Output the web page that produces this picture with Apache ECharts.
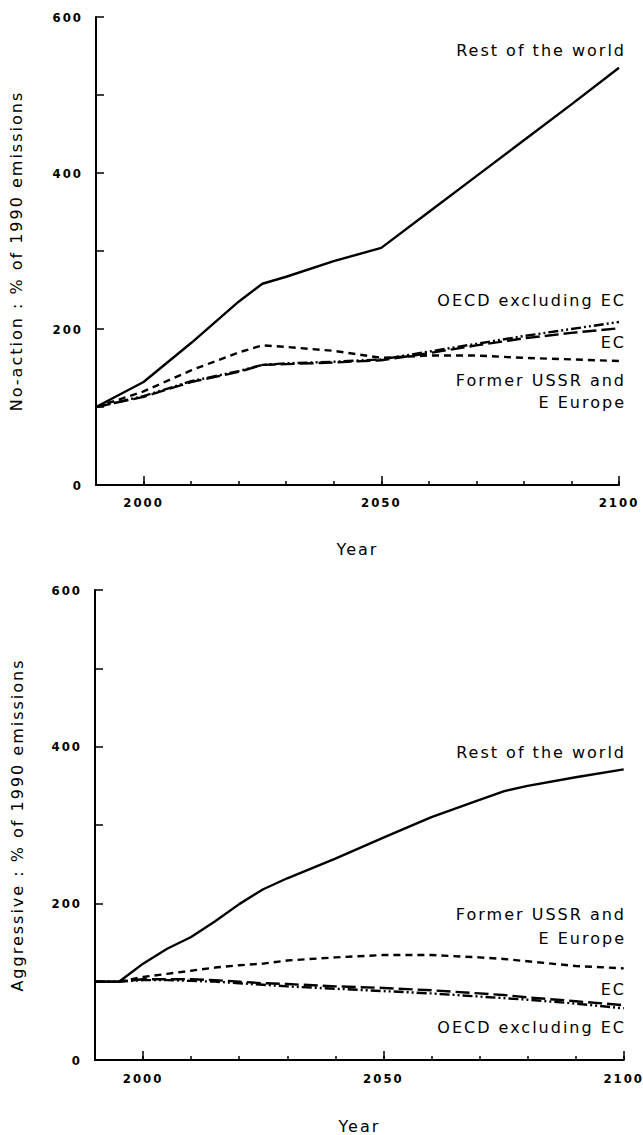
<!DOCTYPE html>
<html>
<head>
<meta charset="utf-8">
<script src="https://cdn.jsdelivr.net/npm/echarts@6/dist/echarts.min.js"></script>
<style>
  html, body { margin: 0; padding: 0; background: #fff; }
  #chart { width: 643px; height: 1135px; }
  #chart text { letter-spacing: 2px; }
</style>
</head>
<body>
<div id="chart"></div>
<script>
// ---------- DATA ----------
const yTicks = [100, 200, 300, 400, 500, 600];
const yLabels = [0, 200, 400, 600];
const xMinorTicks = [2000, 2010, 2020, 2030, 2040, 2050, 2060, 2070, 2080, 2090, 2100];
const xLabels = [2000, 2050, 2100];

// No-action scenario
const yearsTop = [1990, 2000, 2010, 2020, 2025, 2030, 2040, 2050, 2060, 2070, 2080, 2090, 2100];
const topRest = [100, 132, 182, 235, 258, 267, 287, 304, 350, 396, 442, 488, 535];
const topUSSR = [100, 120, 147, 170, 179, 177, 172, 163, 166, 166, 163, 161, 159];
const topEC   = [100, 113, 132, 145, 154, 155, 157, 160, 169, 179, 188, 195, 201];
const topOECD = [100, 114, 133, 146, 154, 156, 158, 161, 171, 181, 191, 200, 209];

// Aggressive scenario
const yearsBot = [1990, 1995, 2000, 2005, 2010, 2015, 2020, 2025, 2030, 2040, 2050, 2060, 2070, 2075, 2080, 2090, 2100];
const botRest = [100, 100, 123, 142, 157, 177, 199, 218, 232, 257, 284, 310, 332, 343, 350, 361, 371];
const botUSSR = [100, 100, 106, 110, 114, 118, 121, 123, 127, 131, 134, 134, 131, 129, 126, 120, 117];
const botEC   = [100, 100, 103, 103, 103, 102, 100, 98, 97, 94, 92, 89, 85, 83, 80, 75, 70];
const botOECD = [100, 100, 102, 102, 101, 100, 98, 96, 94, 91, 88, 85, 81, 79, 77, 72, 66];

const seriesNames = ['Rest of the world', 'Former USSR and E Europe', 'EC', 'OECD excluding EC'];
const yTitles = ['No-action : % of 1990 emissions', 'Aggressive : % of 1990 emissions'];
const xTitle = 'Year';

// ---------- STYLE ----------
const INK = '#000';
const FONT = '"DejaVu Sans", sans-serif';
const TICKFONT = '"DejaVu Sans Condensed", "DejaVu Sans", sans-serif';
const styles = [
  { type: 'solid' },
  { type: [7, 5] },
  { type: [14, 5] },
  { type: [10, 3, 2, 3, 2, 3] }
];

const grids = [
  { left: 93, top: 17, width: 526, height: 468 },
  { left: 95, top: 590, width: 529, height: 471 }
];

function pair(xs, ys) { return xs.map((x, i) => [x, ys[i]]); }
const plain = v => String(v);

const xAxes = [], yAxes = [], series = [];
[0, 1].forEach(g => {
  xAxes.push({
    type: 'value', gridIndex: g, min: 1990, max: 2100, interval: 10,
    axisLine: { show: true, lineStyle: { color: INK, width: 2 } },
    axisTick: { show: true, inside: true, length: 4, lineStyle: { color: INK, width: 1.5 }, customValues: xMinorTicks },
    axisLabel: { show: false },
    splitLine: { show: false }
  });
  xAxes.push({
    type: 'value', gridIndex: g, min: 1990, max: 2100, interval: 10, position: 'bottom',
    axisLine: { show: false },
    axisTick: { show: true, inside: true, length: 9, lineStyle: { color: INK, width: 1.5 }, customValues: xLabels },
    axisLabel: { show: true, customValues: xLabels, formatter: plain, margin: g === 0 ? 11 : 12, color: INK,
                 fontFamily: TICKFONT, fontWeight: 'bold', fontSize: 13 },
    splitLine: { show: false },
    name: xTitle, nameLocation: 'middle', nameGap: g === 0 ? 56 : 58,
    nameTextStyle: { color: INK, fontFamily: FONT, fontSize: 16 }
  });
  yAxes.push({
    type: 'value', gridIndex: g, min: 0, max: 600, interval: 100,
    axisLine: { show: true, lineStyle: { color: INK, width: 2 } },
    axisTick: { show: true, inside: true, length: 8, lineStyle: { color: INK, width: 1.5 }, customValues: yTicks },
    axisLabel: { show: true, customValues: yLabels, formatter: plain, margin: 13, color: INK,
                 fontFamily: TICKFONT, fontWeight: 'bold', fontSize: 13 },
    splitLine: { show: false },
    name: yTitles[g], nameLocation: 'middle', nameGap: g === 0 ? 72 : 70,
    nameTextStyle: { color: INK, fontFamily: FONT, fontSize: 16 }
  });
});

const sets = [
  [yearsTop, [topRest, topUSSR, topEC, topOECD]],
  [yearsBot, [botRest, botUSSR, botEC, botOECD]]
];
sets.forEach(([yrs, arrs], g) => {
  arrs.forEach((vals, k) => {
    series.push({
      type: 'line', name: seriesNames[k] + (g ? ' (aggressive)' : ' (no-action)'),
      xAxisIndex: g * 2, yAxisIndex: g,
      data: pair(yrs, vals), showSymbol: false, silent: true,
      lineStyle: { color: INK, width: 2.4, type: styles[k].type },
      z: 4 - k
    });
  });
});

// Curve labels (right aligned at the plot's right edge)
const labelRight = 626;
const labelPos = [
  [{ t: 'Rest of the world', y: 51 }, { t: 'OECD excluding EC', y: 301 }, { t: 'EC', y: 343 },
   { t: 'Former USSR and', y: 381 }, { t: 'E Europe', y: 403 }],
  [{ t: 'Rest of the world', y: 753 }, { t: 'Former USSR and', y: 915 }, { t: 'E Europe', y: 939 },
   { t: 'EC', y: 990 }, { t: 'OECD excluding EC', y: 1028 }]
];
const graphic = [];
labelPos.forEach(list => list.forEach(l => {
  graphic.push({
    type: 'text', right: 643 - labelRight, top: l.y - 9,
    style: { text: l.t, fill: INK, font: '16px ' + FONT, textAlign: 'right' }
  });
}));

const chart = echarts.init(document.getElementById('chart'), null, { renderer: 'svg' });
chart.setOption({
  backgroundColor: '#fff',
  animation: false,
  grid: grids,
  xAxis: xAxes,
  yAxis: yAxes,
  series: series,
  graphic: graphic
});
</script>
</body>
</html>
